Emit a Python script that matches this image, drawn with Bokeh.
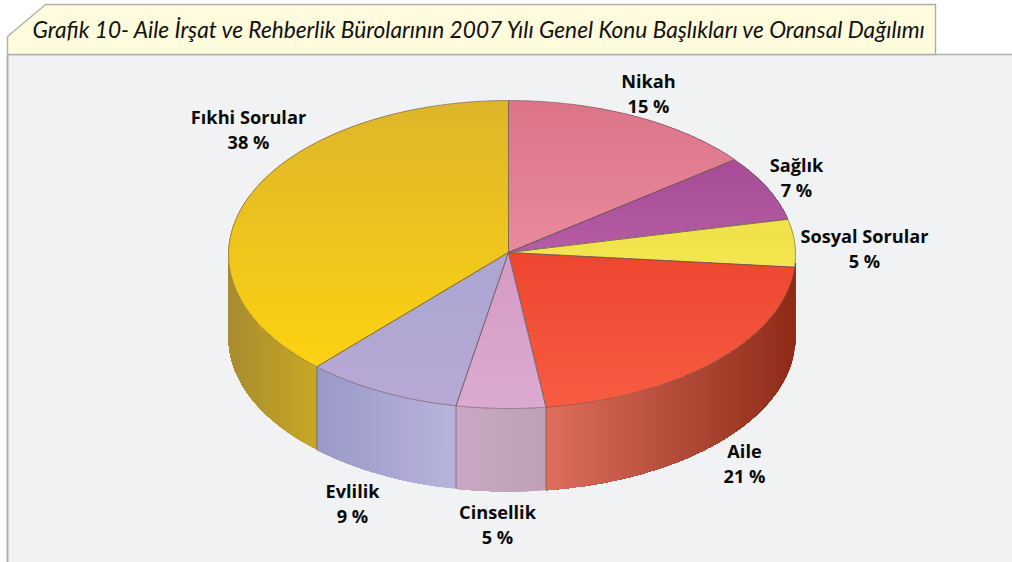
import numpy as np
from bokeh.plotting import figure
from bokeh.embed import file_html
from bokeh.resources import INLINE
from bokeh.core.properties import value

# ---- data ----
title_text = "Grafik 10- Aile İrşat ve Rehberlik Bürolarının 2007 Yılı Genel Konu Başlıkları ve Oransal Dağılımı"
categories = ["Nikah", "Sağlık", "Sosyal Sorular", "Aile", "Cinsellik", "Evlilik", "Fıkhi Sorular"]
values = [15, 7, 5, 21, 5, 9, 38]

# ---- styles (top face: colour at top/bottom of face; side: colour at left/right of side) ----
top_colors = [("#dc7488", "#e88a9c"), ("#a64c96", "#b45ca4"), ("#f0e04a", "#f4e650"),
              ("#ee4630", "#f65c40"), ("#d49ac4", "#dcaad0"), ("#aaa6d2", "#b8a8d4"),
              ("#ddb52a", "#fdd212")]
side_colors = [("#a06070", "#a06070"), ("#804078", "#804078"), ("#8e2c18", "#8e2c18"),
               ("#de6e5e", "#8e2c18"), ("#c8a8c2", "#bea0b8"), ("#9a98c8", "#b8b4dc"),
               ("#a88c30", "#c8a824")]
EDGE = "#6b5a5a"
CX, CY, RX_L, RX_R, RY, DEPTH = 508, 254, 280, 287, 154, 83
APEX = (508, 252)
WARP = 2.5  # degrees of perspective shift on the right half
label_x = [648, 796, 864, 744, 497, 352, 248]
label_y = [80.5, 164.5, 235.5, 450.5, 511.5, 490.5, 116]
LINE2 = 25

def hex2rgb(h):
    return np.array([int(h[i:i + 2], 16) for i in (1, 3, 5)], float)

def mix(a, b, t):
    c = hex2rgb(a) * (1 - t) + hex2rgb(b) * t
    return "#%02x%02x%02x" % tuple(int(round(v)) for v in c)

def rim(deg, dy=0.0):
    deg = deg - WARP * max(np.sin(np.radians(deg)), 0.0)
    r = np.radians(deg)
    s = np.sin(r)
    return CX + (RX_R if s > 0 else RX_L) * s, CY - RY * np.cos(r) + dy

def clip(poly, y0, y1):
    def one(pts, keep, cross):
        out = []
        for i in range(len(pts)):
            a, b = pts[i], pts[(i + 1) % len(pts)]
            if keep(a):
                out.append(a)
            if keep(a) != keep(b):
                t = (cross - a[1]) / (b[1] - a[1])
                out.append((a[0] + t * (b[0] - a[0]), cross))
        return out
    r = one(poly, lambda q: q[1] >= y0, y0)
    return one(r, lambda q: q[1] <= y1, y1) if r else r

p = figure(width=1012, height=562, x_range=(0, 1012), y_range=(562, 0),
           toolbar_location=None, output_backend="svg", min_border=0,
           margin=(0, 0, 0, 0))
p.axis.visible = False
p.grid.visible = False
p.outline_line_color = None
p.background_fill_color = "#ffffff"
p.border_fill_color = "#ffffff"

# panel and title tab
p.patch([7, 1012, 1012, 7], [54, 54, 562, 562], fill_color="#f1f2f4", line_color=None)
p.line([7, 7], [54, 562], line_color="#b0b0b0", line_width=2)
p.line([7, 1012], [54, 54], line_color="#b0b0b0", line_width=1.5)
p.patch([7, 45, 935, 935, 7], [36, 4, 4, 54, 54], fill_color="#fffbdd",
        line_color="#b0b0b0", line_width=1.5)
p.text([479.5], [29], text=[title_text], text_align="center", text_baseline="middle",
       text_font=value("Lato"), text_font_style="italic", text_font_size="22.7px",
       text_color="#111111")

edges = np.concatenate([[0], np.cumsum(values)]) / sum(values) * 360.0

# side wall: each strip runs to the end of its slice, so later strips paint over without seams
xs, ys, cols = [], [], []
for i in range(len(values)):
    a0, a1 = edges[i], edges[i + 1]
    lo, hi = max(a0, 90), min(a1, 270)
    if lo >= hi:
        continue
    x_l, x_r = rim(hi)[0], rim(lo)[0]
    st = np.linspace(lo, hi, int(hi - lo) + 2)
    for k in range(len(st) - 1):
        arc = [rim(a) for a in st[k:]]
        t = ((rim(st[k])[0] + rim(st[k + 1])[0]) / 2 - x_l) / max(x_r - x_l, 1)
        xs.append([q[0] for q in arc] + [q[0] for q in arc[::-1]])
        ys.append([q[1] for q in arc] + [q[1] + DEPTH for q in arc[::-1]])
        cols.append(mix(side_colors[i][0], side_colors[i][1], t))
p.patches(xs, ys, fill_color=cols, line_color=None)

# side dividers (the wall below the narrow yellow slice reads as one with the red one)
for e in edges[4:]:
    if 90 < e < 270:
        x0, y0 = rim(e)
        p.line([x0, x0], [y0, y0 + DEPTH], line_color=EDGE, line_width=1, line_alpha=0.7)

# top faces with vertical gradient: each band runs to the bottom of its slice
fx, fy, fc = [], [], []
for i in range(len(values)):
    arc = [rim(a) for a in np.linspace(edges[i], edges[i + 1], 80)]
    poly = [APEX] + arc
    ymin, ymax = min(q[1] for q in poly), max(q[1] for q in poly)
    bands = np.linspace(ymin, ymax, 40)
    for b0, b1 in zip(bands[:-1], bands[1:]):
        piece = clip(poly, b0, ymax)
        if len(piece) < 3:
            continue
        fx.append([q[0] for q in piece])
        fy.append([q[1] for q in piece])
        fc.append(mix(top_colors[i][0], top_colors[i][1], ((b0 + b1) / 2 - ymin) / (ymax - ymin)))
p.patches(fx, fy, fill_color=fc, line_color=None)

# top face outlines
for i in range(len(values)):
    arc = [rim(a) for a in np.linspace(edges[i], edges[i + 1], 80)]
    poly = [APEX] + arc + [APEX]
    p.line([q[0] for q in poly], [q[1] for q in poly], line_color=EDGE, line_width=1, line_alpha=0.6)

# labels
pct = [f"{v} %" for v in values]
font = dict(text_align="center", text_baseline="middle", text_font=value("Open Sans"),
            text_font_style="bold", text_font_size="18.2px", text_color="#0a0a0a")
p.text(label_x, label_y, text=categories, **font)
p.text(label_x, [y + LINE2 for y in label_y], text=pct, **font)

open("out.html", "w").write(file_html(p, INLINE))
